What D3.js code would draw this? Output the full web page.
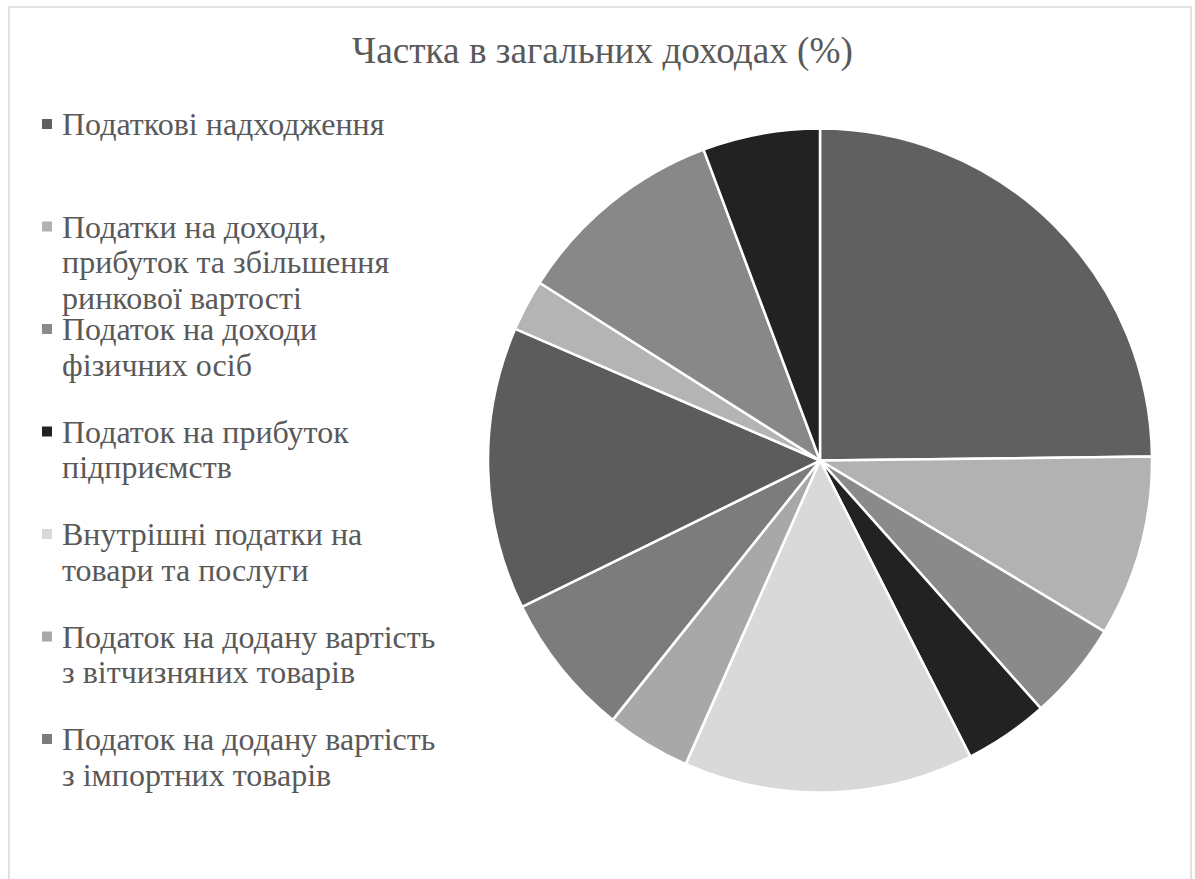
<!DOCTYPE html>
<html>
<head>
<meta charset="utf-8">
<script src="https://cdn.jsdelivr.net/npm/d3@7"></script>
</head>
<body style="margin:0;background:#ffffff">
<svg id="chart" width="1195" height="879" style="display:block"></svg>
<script>
const title = "Частка в загальних доходах (%)";
const categories = [
  "Податкові надходження",
  "Податки на доходи, прибуток та збільшення ринкової вартості",
  "Податок на доходи фізичних осіб",
  "Податок на прибуток підприємств",
  "Внутрішні податки на товари та послуги",
  "Податок на додану вартість з вітчизняних товарів",
  "Податок на додану вартість з імпортних товарів",
  "Акцизний податок з вітчизняних товарів",
  "Акцизний податок з імпортних товарів",
  "Податки на міжнародну торгівлю",
  "Інші податкові надходження"
];
const legendLines = [
  ["Податкові надходження"],
  ["Податки на доходи,", "прибуток та збільшення", "ринкової вартості"],
  ["Податок на доходи", "фізичних осіб"],
  ["Податок на прибуток", "підприємств"],
  ["Внутрішні податки на", "товари та послуги"],
  ["Податок на додану вартість", "з вітчизняних товарів"],
  ["Податок на додану вартість", "з імпортних товарів"]
];
const values = [24.8, 8.8, 4.8, 4.1, 14.1, 4.1, 7.0, 13.75, 2.5, 10.3, 5.7];
const colors = ["#606060", "#b2b2b2", "#8a8a8a", "#222222", "#d9d9d9", "#a8a8a8",
                "#7c7c7c", "#5c5c5c", "#b4b4b4", "#888888", "#222222"];

const FONT = "Liberation Serif";
const TEXT_COLOR = "#595959";
const svg = d3.select("#chart");

// chart area border
svg.append("rect")
  .attr("x", 9).attr("y", 7)
  .attr("width", 1182).attr("height", 900)
  .attr("fill", "#ffffff")
  .attr("stroke", "#d9d9d9").attr("stroke-width", 1.5);

// title
const titleText = svg.append("text")
  .attr("x", 602.5).attr("y", 62.5)
  .attr("text-anchor", "middle")
  .attr("font-family", FONT)
  .attr("fill", TEXT_COLOR)
  .attr("font-size", 100)
  .text(title);
const tw = titleText.node().getComputedTextLength();
titleText.attr("font-size", 100 * 501 / tw);

// pie
const cx = 820, cy = 460.5, r = 332;
const color = d3.scaleOrdinal().domain(categories).range(colors);
const pie = d3.pie().sort(null).value(d => d.value);
const arc = d3.arc().innerRadius(0).outerRadius(r);
const data = categories.map((c, i) => ({ name: c, value: values[i] }));

svg.append("g")
  .attr("transform", `translate(${cx},${cy})`)
  .selectAll("path")
  .data(pie(data))
  .join("path")
  .attr("d", arc)
  .attr("fill", d => color(d.data.name))
  .attr("stroke", "#ffffff")
  .attr("stroke-width", 2.5)
  .attr("stroke-linejoin", "round");

// legend (first entries only, as in the reference)
const legendY = d3.scaleLinear().domain([0, 1]).range([135, 237.5]);
const legend = svg.append("g");
legendLines.forEach((lines, i) => {
  const y0 = legendY(i);
  legend.append("rect")
    .attr("x", 42).attr("y", y0 - 16)
    .attr("width", 10).attr("height", 10)
    .attr("fill", color(categories[i]));
  const t = legend.append("text")
    .attr("x", 62).attr("y", y0)
    .attr("font-family", FONT)
    .attr("fill", TEXT_COLOR)
    .attr("font-size", 32);
  lines.forEach((ln, j) => {
    t.append("tspan").attr("x", 62).attr("y", y0 + j * 35.5).text(ln);
  });
});
</script>
</body>
</html>
